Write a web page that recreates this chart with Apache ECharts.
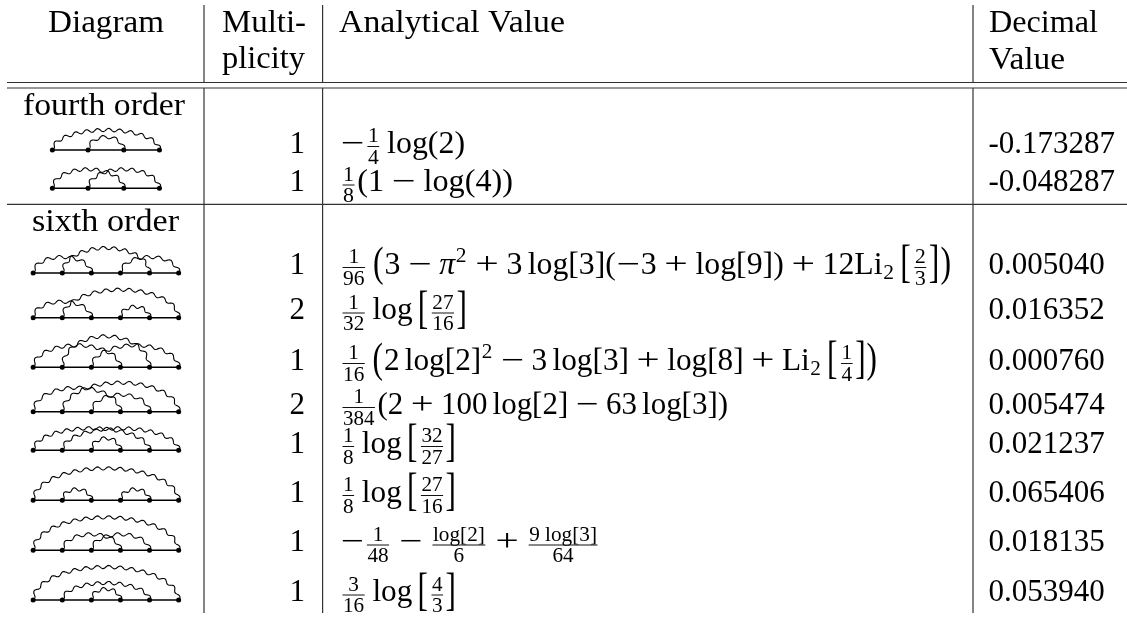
<!DOCTYPE html>
<html>
<head>
<meta charset="utf-8">
<title>Diagrams</title>
<script src="https://cdn.jsdelivr.net/npm/echarts@6/dist/echarts.min.js"></script>
<style>
html, body { margin: 0; padding: 0; background: #fff; }
#main { width: 1127px; height: 617px; }
</style>
</head>
<body>
<div id="main"></div>
<script>
// table content
var headerCells = ['Diagram', 'Multi-', 'plicity', 'Analytical Value', 'Decimal', 'Value', 'fourth order', 'sixth order'];
var multiplicity = ['1', '1', '1', '2', '1', '2', '1', '1', '1', '1'];
var decimalValues = ['-0.173287', '-0.048287', '0.005040', '0.016352', '0.000760', '0.005474', '0.021237', '0.065406', '0.018135', '0.053940'];

// photon arcs of each diagram: [from vertex, to vertex, height]
var diagramArcs = [
  [[0, 3, 20], [1, 2, 13]],
  [[0, 2, 19], [1, 3, 19]],
  [[0, 2, 16], [1, 4, 25], [3, 5, 16]],
  [[0, 2, 16], [1, 5, 28], [3, 4, 11]],
  [[0, 3, 22], [1, 4, 31], [2, 5, 22]],
  [[0, 3, 24], [1, 5, 29], [2, 4, 17]],
  [[0, 4, 22], [1, 5, 22], [2, 3, 12]],
  [[0, 5, 32], [1, 2, 11], [3, 4, 11]],
  [[0, 5, 33], [1, 3, 16], [2, 4, 16]],
  [[0, 5, 33], [1, 4, 17], [2, 3, 11]]
];
var vertexCounts = [4, 4, 6, 6, 6, 6, 6, 6, 6, 6];

// formula tokens, plain strings are roman text
var sp = ['sp', 0.167];
var formulas = [
  [['un', '−'], ['frac', '1', '4'], sp, 'log(2)'],
  [['frac', '1', '8'], '(1', ['op', '−'], 'log(4))'],
  [['frac', '1', '96'], sp, ['big', '('], '3', ['op', '−'], ['it', 'π'], ['sup', '2'], ['op', '+'], '3', sp, 'log[3](', ['un', '−'], '3', ['op', '+'], 'log[9])', ['op', '+'], '12Li', ['sub', '2'], sp, ['big', '['], ['frac', '2', '3'], ['big', ']'], ['big', ')']],
  [['frac', '1', '32'], sp, 'log', sp, ['big', '['], ['frac', '27', '16'], ['big', ']']],
  [['frac', '1', '16'], sp, ['big', '('], '2', sp, 'log[2]', ['sup', '2'], ['op', '−'], '3', sp, 'log[3]', ['op', '+'], 'log[8]', ['op', '+'], 'Li', ['sub', '2'], sp, ['big', '['], ['frac', '1', '4'], ['big', ']'], ['big', ')']],
  [['frac', '1', '384'], '(2', ['op', '+'], '100', sp, 'log[2]', ['op', '−'], '63', sp, 'log[3])'],
  [['frac', '1', '8'], sp, 'log', sp, ['big', '['], ['frac', '32', '27'], ['big', ']']],
  [['frac', '1', '8'], sp, 'log', sp, ['big', '['], ['frac', '27', '16'], ['big', ']']],
  [['un', '−'], ['frac', '1', '48'], ['op', '−'], ['frac', 'log[2]', '6'], ['op', '+'], ['frac', '9 log[3]', '64']],
  [['frac', '3', '16'], sp, 'log', sp, ['big', '['], ['frac', '4', '3'], ['big', ']']]
];

// layout in page pixels
var headerX = [48, 222, 222, 339, 989, 989, 23, 32];
var headerY = [33, 33, 69, 33, 33, 70, 116, 232];
var headerW = [116, 84, 83, 226, 109, 76, 162, 147];
var rowBaseline = [154, 192.5, 275, 320.5, 371, 415, 454, 503, 552.5, 602.5];
var diagramBaseline = [150, 188.3, 273, 317.7, 367.3, 411.7, 450.3, 500.3, 550.3, 600];
var formulaWidth = [125, 173, 612, 128, 538, 388, 117, 117, 260, 117];
var hRules = [[7, 1127, 82.5], [7, 1127, 88], [7, 1127, 204.3]];
var vRuleX = [204, 322.6, 973];
var vRuleSpans = [[5, 82.5], [88, 613]];

var FONT = '"Liberation Serif", "Times New Roman", serif';
var SIZE = 31, SCRIPT = 21, MID = 0.31;
var measureCtx = document.createElement('canvas').getContext('2d');

function textWidth(str, size, style) {
  measureCtx.font = (style || '') + ' ' + size + 'px ' + FONT;
  return measureCtx.measureText(str).width;
}

// baseline -> middle of the em box for this font
function textEl(str, x, baseline, size, opt) {
  opt = opt || {};
  return {
    type: 'text',
    x: x,
    y: baseline - MID * size,
    scaleX: opt.scaleX || 1,
    scaleY: opt.scaleY || 1,
    style: {
      text: str,
      font: (opt.style || '') + ' ' + size + 'px ' + FONT,
      fill: '#000',
      textAlign: opt.align || 'left',
      verticalAlign: 'middle'
    }
  };
}

function typesetFormula(tokens) {
  var els = [], x = 0;
  tokens.forEach(function (tk) {
    if (typeof tk === 'string') {
      els.push(textEl(tk, x, 0, SIZE));
      x += textWidth(tk, SIZE);
      return;
    }
    var kind = tk[0];
    if (kind === 'sp') {
      x += tk[1] * SIZE;
    } else if (kind === 'it') {
      els.push(textEl(tk[1], x, 0, SIZE, { style: 'italic' }));
      x += textWidth(tk[1], SIZE, 'italic');
    } else if (kind === 'op' || kind === 'un') {
      var pad = kind === 'op' ? 0.222 * SIZE : 0;
      var w = textWidth(tk[1], SIZE);
      x += pad;
      els.push(textEl(tk[1], x + 0.02 * SIZE, 0, SIZE, { scaleX: 0.74 * SIZE / w }));
      x += 0.778 * SIZE + pad;
    } else if (kind === 'sup' || kind === 'sub') {
      var dy = kind === 'sup' ? -12.5 : 5;
      els.push(textEl(tk[1], x + 0.5, dy, SCRIPT));
      x += textWidth(tk[1], SCRIPT) + 1.5;
    } else if (kind === 'big') {
      // stretch the normal glyph so the strokes stay thin
      var isParen = tk[1] === '(' || tk[1] === ')';
      els.push(textEl(tk[1], x, isParen ? -1 : -0.2, SIZE, { scaleY: isParen ? 1.38 : 1.5 }));
      x += textWidth(tk[1], SIZE) + 1;
    } else if (kind === 'frac') {
      var nw = textWidth(tk[1], SCRIPT), dw = textWidth(tk[2], SCRIPT);
      var fw = Math.max(nw, dw) + 1, pd = 2.5;
      els.push(textEl(tk[1], x + pd + (fw - nw) / 2, -11, SCRIPT));
      els.push(textEl(tk[2], x + pd + (fw - dw) / 2, 10.5, SCRIPT));
      els.push({ type: 'rect', shape: { x: x + pd, y: -8, width: fw, height: 1 }, style: { fill: '#111' } });
      x += fw + 2 * pd;
    }
  });
  return { els: els, width: x };
}

// semi ellipse with a sine wiggle along its length
function wavyArc(x0, x1, base, h) {
  var cx = (x0 + x1) / 2, a = (x1 - x0) / 2, raw = [], n = 240, i, len = 0, s = [0];
  for (i = 0; i <= n; i++) {
    var t = Math.PI * i / n;
    raw.push([cx - a * Math.cos(t), base - h * Math.sin(t)]);
    if (i) {
      len += Math.hypot(raw[i][0] - raw[i - 1][0], raw[i][1] - raw[i - 1][1]);
      s.push(len);
    }
  }
  var waves = Math.max(2, Math.round(len / 11.5)), pts = [];
  for (i = 0; i <= n; i++) {
    var p = raw[Math.max(i - 1, 0)], q = raw[Math.min(i + 1, n)];
    var dx = q[0] - p[0], dy = q[1] - p[1], d = Math.hypot(dx, dy) || 1;
    var off = 1.6 * Math.sin(2 * Math.PI * waves * s[i] / len);
    pts.push([raw[i][0] - dy / d * off, raw[i][1] + dx / d * off]);
  }
  return pts;
}

function renderRules(params, api) {
  var children = [];
  function seg(x1, y1, x2, y2, color) {
    var a = api.coord([x1, y1]), b = api.coord([x2, y2]);
    children.push({ type: 'line', shape: { x1: a[0], y1: a[1], x2: b[0], y2: b[1] }, style: { stroke: color, lineWidth: 1.2 } });
  }
  hRules.forEach(function (r) { seg(r[0], r[2], r[1], r[2], '#333'); });
  vRuleX.forEach(function (x) {
    vRuleSpans.forEach(function (sp) { seg(x, sp[0], x, sp[1], '#333'); });
  });
  return { type: 'group', children: children };
}

function renderDiagram(params, api) {
  var row = api.value(0), count = vertexCounts[row], base = diagramBaseline[row];
  var step = count === 4 ? 35.7 : 29.1, left = 105.9 - step * (count - 1) / 2;
  var vx = [], i;
  for (i = 0; i < count; i++) vx.push(left + i * step);
  var a = api.coord([vx[0], base]), b = api.coord([vx[count - 1], base]);
  var children = [{ type: 'line', shape: { x1: a[0], y1: a[1], x2: b[0], y2: b[1] }, style: { stroke: '#000', lineWidth: 1.4 } }];
  diagramArcs[row].forEach(function (arc) {
    var pts = wavyArc(vx[arc[0]], vx[arc[1]], base, arc[2]).map(function (p) { return api.coord(p); });
    children.push({ type: 'polyline', shape: { points: pts }, style: { stroke: '#000', fill: null, lineWidth: 1.1 } });
  });
  vx.forEach(function (x) {
    var c = api.coord([x, base]);
    children.push({ type: 'circle', shape: { cx: c[0], cy: c[1], r: 2.5 }, style: { fill: '#000' } });
  });
  return { type: 'group', children: children };
}

function renderHeader(params, api) {
  var i = api.value(0), str = headerCells[i];
  var c = api.coord([headerX[i], headerY[i]]);
  return textEl(str, c[0], c[1], SIZE, { scaleX: headerW[i] / textWidth(str, SIZE) });
}

function renderRow(params, api) {
  var row = api.value(0), base = rowBaseline[row];
  var m = api.coord([305, base]), d = api.coord([988.5, base]), f = api.coord([340, base]);
  var set = typesetFormula(formulas[row]);
  return {
    type: 'group',
    children: [
      textEl(multiplicity[row], m[0], m[1], SIZE, { align: 'right' }),
      textEl(decimalValues[row], d[0], d[1], SIZE),
      { type: 'group', x: f[0], y: f[1], scaleX: formulaWidth[row] / set.width, children: set.els }
    ]
  };
}

var chart = echarts.init(document.getElementById('main'), null, { renderer: 'canvas' });
var rowIndex = multiplicity.map(function (v, i) { return [i]; });

chart.setOption({
  animation: false,
  backgroundColor: '#fff',
  grid: { left: 0, right: 0, top: 0, bottom: 0 },
  xAxis: { type: 'value', min: 0, max: 1127, show: false },
  yAxis: { type: 'value', min: 0, max: 617, inverse: true, show: false },
  series: [
    { type: 'custom', coordinateSystem: 'cartesian2d', clip: false, silent: true, renderItem: renderRules, data: [[0]], encode: { x: 0, y: 0 } },
    { type: 'custom', coordinateSystem: 'cartesian2d', clip: false, silent: true, renderItem: renderDiagram, data: rowIndex, encode: { x: 0, y: 0 } },
    { type: 'custom', coordinateSystem: 'cartesian2d', clip: false, silent: true, renderItem: renderHeader, data: headerCells.map(function (v, i) { return [i]; }), encode: { x: 0, y: 0 } },
    { type: 'custom', coordinateSystem: 'cartesian2d', clip: false, silent: true, renderItem: renderRow, data: rowIndex, encode: { x: 0, y: 0 } }
  ]
});
</script>
</body>
</html>
